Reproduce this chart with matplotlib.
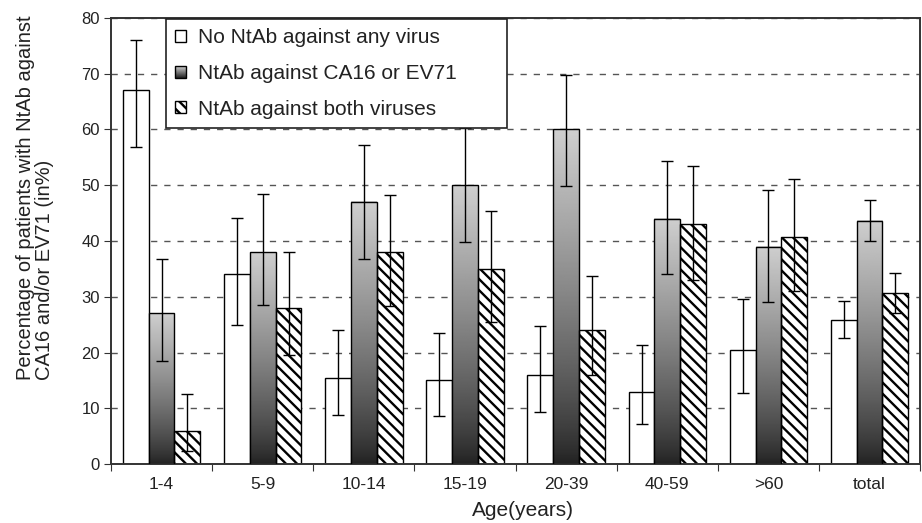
import numpy as np
import matplotlib
matplotlib.use('Agg')
import matplotlib.pyplot as plt
from matplotlib.patches import Rectangle
from matplotlib.legend_handler import HandlerBase

plt.rcParams['font.family'] = ['Liberation Sans', 'DejaVu Sans']
plt.rcParams['hatch.linewidth'] = 1.7

# age groups and percentages (with lower / upper ends of the error bars)
age_groups = ['1-4', '5-9', '10-14', '15-19', '20-39', '40-59', '>60', 'total']

no_ntab = [67, 34, 15.4, 15, 16, 13, 20.4, 25.8]
no_ntab_lo = [56.8, 25, 8.8, 8.6, 9.3, 7.2, 12.8, 22.6]
no_ntab_hi = [76, 44.2, 24, 23.5, 24.7, 21.3, 29.6, 29.2]

one_virus = [27, 38, 47, 50, 60, 44, 39, 43.6]
one_virus_lo = [18.4, 28.5, 36.8, 39.8, 49.8, 34, 29, 40]
one_virus_hi = [36.8, 48.5, 57.3, 60.3, 69.7, 54.3, 49.2, 47.4]

both_viruses = [6, 28, 38, 35, 24, 43, 40.8, 30.6]
both_viruses_lo = [2.3, 19.5, 28.3, 25.5, 16, 33, 31, 27.1]
both_viruses_hi = [12.5, 38, 48.3, 45.3, 33.7, 53.4, 51.2, 34.2]

labels = ['No NtAb against any virus', 'NtAb against CA16 or EV71',
          'NtAb against both viruses']

x = np.arange(len(age_groups))
w = 0.255

fig = plt.figure(figsize=(9.22, 5.23), dpi=100)
ax = fig.add_axes([0.1204, 0.1128, 0.8776, 0.8528])

# gradient for the middle bars: dark at the base, light at the top
grad = np.linspace(0, 1, 256) ** 0.8
grad = (0.13 + 0.68 * grad).reshape(-1, 1)


def err(vals, lo, hi):
    vals, lo, hi = map(np.asarray, (vals, lo, hi))
    return [vals - lo, hi - vals]


b1 = ax.bar(x - w, no_ntab, w, color='white', edgecolor='black', linewidth=1, zorder=2)
b2 = ax.bar(x, one_virus, w, color='none', edgecolor='black', linewidth=1, zorder=3)
for rect in b2:
    x0, h = rect.get_x(), rect.get_height()
    ax.imshow(grad, cmap='gray', vmin=0, vmax=1, origin='lower', aspect='auto',
              extent=(x0, x0 + w, 0, h), zorder=2, interpolation='bilinear')
b3 = ax.bar(x + w, both_viruses, w, color='white', edgecolor='black', hatch='\\\\\\',
            linewidth=1, zorder=2)

ekw = dict(fmt='none', ecolor='black', elinewidth=1, capsize=4.5, capthick=1, zorder=4)
ax.errorbar(x - w, no_ntab, yerr=err(no_ntab, no_ntab_lo, no_ntab_hi), **ekw)
ax.errorbar(x, one_virus, yerr=err(one_virus, one_virus_lo, one_virus_hi), **ekw)
ax.errorbar(x + w, both_viruses, yerr=err(both_viruses, both_viruses_lo, both_viruses_hi), **ekw)

ax.set_xlim(-0.5, len(age_groups) - 0.5)
ax.set_ylim(0, 80)
ax.set_yticks(range(0, 81, 10))
ax.yaxis.grid(True, linestyle=(0, (4.5, 5)), color='#555555', linewidth=1)
ax.set_axisbelow(True)

# group separators as ticks, labels in the middle without ticks
ax.set_xticks(np.arange(-0.5, len(age_groups) + 0.5, 1))
ax.set_xticklabels([])
ax.set_xticks(x, minor=True)
ax.set_xticklabels(age_groups, minor=True)
ax.tick_params(axis='x', which='minor', length=0, pad=9, labelsize=12.5, colors='#222222')
ax.tick_params(axis='x', which='major', length=5, direction='out', color='#333333')
ax.tick_params(axis='y', length=5, direction='out', labelsize=12, pad=3, color='#333333',
               labelcolor='#222222')

for s in ax.spines.values():
    s.set_color('#333333')
    s.set_linewidth(1.4)

fig.text(523 / 922, 1 - 510 / 523, 'Age(years)', fontsize=15, color='#222222',
         ha='center', va='center')
fig.text(35 / 922, 1 - 198 / 523,
         'Percentage of patients with NtAb against\nCA16 and/or EV71 (in%)',
         fontsize=14.5, color='#222222', rotation=90, ha='center', va='center',
         multialignment='left', linespacing=1.05)


class GradientHandler(HandlerBase):
    def create_artists(self, legend, orig_handle, xdescent, ydescent, width, height,
                       fontsize, trans):
        n = 12
        arts = []
        for i in range(n):
            g = 0.15 + 0.65 * (i / (n - 1))
            arts.append(Rectangle((-xdescent, -ydescent + height * i / n), width, height / n,
                                  facecolor=str(g), edgecolor='none', transform=trans))
        arts.append(Rectangle((-xdescent, -ydescent), width, height, facecolor='none',
                              edgecolor='black', linewidth=1, transform=trans))
        return arts


# legend box spans a fixed width, entries stay on the left
gproxy = Rectangle((0, 0), 1, 1)
lx0 = (166 - 111) / 809
ly1 = (464 - 19) / 446
leg = ax.legend([b1, gproxy, b3], labels, loc='upper left', mode='expand',
                bbox_to_anchor=(lx0, ly1 - 0.3, (507 - 166) / 809, 0.3), borderaxespad=0,
                fontsize=15, frameon=True, fancybox=False,
                edgecolor='#222222', framealpha=1, handlelength=0.5, handleheight=0.5,
                handletextpad=0.6, labelspacing=0.8, borderpad=0.45,
                handler_map={gproxy: GradientHandler()})
leg.get_frame().set_linewidth(1.2)
for t in leg.get_texts():
    t.set_color('#222222')

fig.savefig('out.png', dpi=100)
